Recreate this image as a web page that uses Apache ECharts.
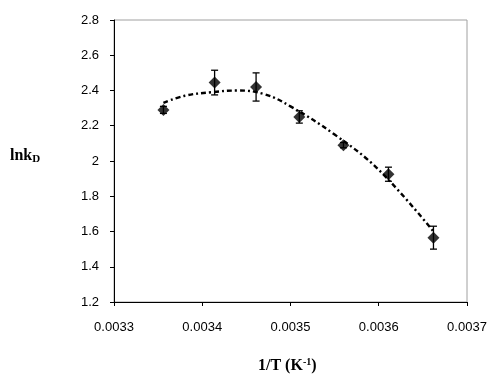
<!DOCTYPE html>
<html>
<head>
<meta charset="utf-8">
<script src="https://cdn.jsdelivr.net/npm/echarts@6/dist/echarts.min.js"></script>
<style>
  html, body { margin: 0; padding: 0; background: #fff; }
  #chart { width: 494px; height: 381px; }
</style>
</head>
<body>
<div id="chart"></div>
<script>
// measured points (1/T, lnkD) with error half-widths
const invT = [0.003356, 0.003414, 0.003461, 0.00351, 0.00356, 0.003611, 0.003662];
const lnkD = [2.29, 2.445, 2.42, 2.25, 2.09, 1.925, 1.565];
const errD = [0.02, 0.07, 0.08, 0.035, 0.015, 0.04, 0.065];

// trend line
const trendX = [0.003356, 0.00338, 0.00341, 0.00344, 0.00347, 0.0035, 0.00355, 0.0036, 0.003662];
const trendY = [2.33, 2.37, 2.39, 2.40, 2.38, 2.31, 2.15, 1.95, 1.60];

const xTicks = [0.0033, 0.0034, 0.0035, 0.0036, 0.0037];

const chart = echarts.init(document.getElementById("chart"));

const points = invT.map((x, i) => [x, lnkD[i]]);
const errBars = invT.map((x, i) => [x, lnkD[i] - errD[i], lnkD[i] + errD[i]]);
const trend = trendX.map((x, i) => [x, trendY[i]]);

const option = {
  backgroundColor: "#fff",
  animation: false,
  grid: {
    left: 114, right: 27, top: 20, bottom: 79,
    show: true, borderColor: "#a0a0a0", borderWidth: 1
  },
  xAxis: {
    type: "value",
    min: xTicks[0], max: xTicks[xTicks.length - 1], interval: 0.0001,
    axisLine: { lineStyle: { color: "#000", width: 1 } },
    axisTick: { show: true, length: 4, lineStyle: { color: "#000" } },
    splitLine: { show: false },
    axisLabel: {
      color: "#000", fontSize: 13, fontFamily: "Liberation Sans, Arial",
      margin: 19,
      formatter: v => v.toFixed(4)
    }
  },
  yAxis: {
    type: "value",
    min: 1.2, max: 2.8, interval: 0.2,
    axisLine: { show: true, lineStyle: { color: "#000", width: 1 } },
    axisTick: { show: true, length: 4, lineStyle: { color: "#000" } },
    splitLine: { show: false },
    axisLabel: {
      color: "#000", fontSize: 13, fontFamily: "Liberation Sans, Arial",
      margin: 15,
      formatter: v => String(Math.round(v * 10) / 10)
    }
  },
  series: [
    {
      name: "trend",
      type: "line",
      data: trend,
      smooth: 0.4,
      showSymbol: false,
      lineStyle: { color: "#000", width: 2.4, type: [5, 3, 2, 3] },
      z: 2
    },
    {
      name: "err",
      type: "custom",
      data: errBars,
      renderItem: (params, api) => {
        const x = api.value(0);
        const lo = api.coord([x, api.value(1)]);
        const hi = api.coord([x, api.value(2)]);
        const cap = 3.5;
        const style = { stroke: "#000", lineWidth: 1.3 };
        return {
          type: "group",
          children: [
            { type: "line", shape: { x1: lo[0], y1: lo[1], x2: hi[0], y2: hi[1] }, style },
            { type: "line", shape: { x1: lo[0] - cap, y1: lo[1], x2: lo[0] + cap, y2: lo[1] }, style },
            { type: "line", shape: { x1: hi[0] - cap, y1: hi[1], x2: hi[0] + cap, y2: hi[1] }, style }
          ]
        };
      },
      z: 3
    },
    {
      name: "lnkD",
      type: "scatter",
      data: points,
      symbol: "diamond",
      symbolSize: 12,
      itemStyle: { color: "#000" },
      z: 4
    }
  ],
  graphic: [
    {
      type: "text", left: 10, top: 148,
      style: {
        text: "{a|lnk}{b|D}",
        rich: {
          a: { fontFamily: "Liberation Serif, Times New Roman", fontWeight: "bold", fontSize: 16, fill: "#000" },
          b: { fontFamily: "Liberation Serif, Times New Roman", fontWeight: "bold", fontSize: 11, fill: "#000", padding: [6, 0, 0, 0] }
        }
      }
    },
    {
      type: "text", left: 258, top: 357,
      style: {
        text: "{a|1/T (K}{s|-1}{a|)}",
        rich: {
          a: { fontFamily: "Liberation Serif, Times New Roman", fontWeight: "bold", fontSize: 16, fill: "#000" },
          s: { fontFamily: "Liberation Serif, Times New Roman", fontWeight: "bold", fontSize: 10, fill: "#000", padding: [0, 0, 8, 0] }
        }
      }
    }
  ]
};

chart.setOption(option);
</script>
</body>
</html>
